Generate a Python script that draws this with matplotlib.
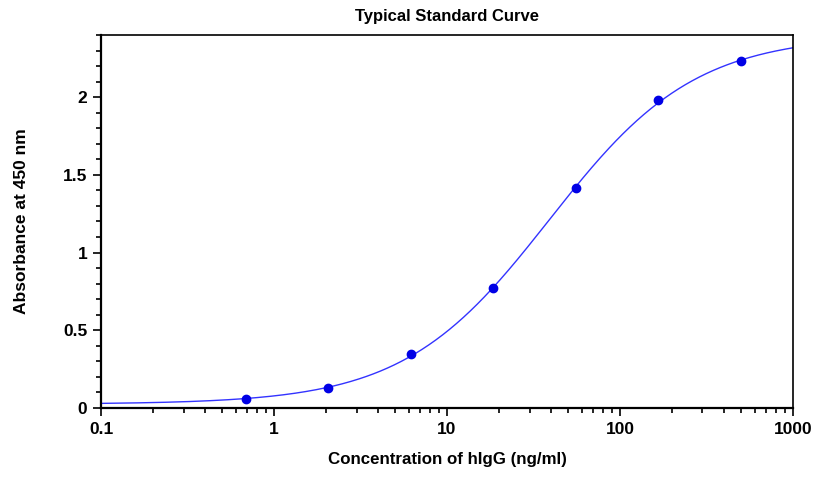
import numpy as np
import matplotlib
matplotlib.use("Agg")
import matplotlib.pyplot as plt
from matplotlib.ticker import FixedLocator, MultipleLocator, LogLocator, NullFormatter

# Standard points (3-fold dilutions from 500 ng/ml)
conc = [0.686, 2.058, 6.17, 18.52, 55.56, 166.7, 500.0]
absorb = [0.058, 0.129, 0.347, 0.772, 1.415, 1.98, 2.23]
xticks = [0.1, 1, 10, 100, 1000]
xtick_labels = ["0.1", "1", "10", "100", "1000"]
yticks = [0, 0.5, 1, 1.5, 2]
ytick_labels = ["0", "0.5", "1", "1.5", "2"]

plt.rcParams['font.family'] = ['Liberation Sans', 'DejaVu Sans']


def four_pl(x, p):
    a, d, c, b = p
    return d + (a - d) / (1 + (x / c) ** b)


def fit_4pl(x, y):
    # small Levenberg-Marquardt fit of the 4 parameter logistic
    x = np.asarray(x)
    y = np.asarray(y)
    p = np.array([y.min(), y.max() * 1.05, np.median(x), 1.0])
    lam = 1e-2
    for _ in range(500):
        r = y - four_pl(x, p)
        J = np.zeros((len(x), 4))
        for i in range(4):
            dp = np.zeros(4)
            dp[i] = 1e-6 * max(abs(p[i]), 1e-3)
            J[:, i] = (four_pl(x, p + dp) - four_pl(x, p)) / dp[i]
        A = J.T @ J
        g = J.T @ r
        step = np.linalg.solve(A + lam * np.diag(np.diag(A)), g)
        p_new = p + step
        if p_new[2] > 0 and np.sum((y - four_pl(x, p_new)) ** 2) < np.sum(r ** 2):
            p = p_new
            lam *= 0.5
        else:
            lam *= 4
    return p


params = fit_4pl(conc, absorb)
xs = np.logspace(-1, 3, 400)

fig = plt.figure(figsize=(8.2, 4.79), dpi=100)
ax = fig.add_axes([0.1232, 0.1482, 0.8438, 0.7788])

ax.plot(xs, four_pl(xs, params), color="#3333ff", lw=1.0)
ax.plot(conc, absorb, "o", color="#0000e6", ms=6)

ax.set_xscale("log")
ax.set_xlim(0.1, 1000)
ax.set_ylim(0, 2.4)
ax.xaxis.set_major_locator(FixedLocator(xticks))
ax.set_xticklabels(xtick_labels)
ax.xaxis.set_minor_locator(LogLocator(base=10, subs=np.arange(2, 10)))
ax.xaxis.set_minor_formatter(NullFormatter())
ax.set_yticks(yticks)
ax.set_yticklabels(ytick_labels)
ax.yaxis.set_minor_locator(MultipleLocator(0.1))

ax.tick_params(which="major", direction="out", length=6, width=1.2, labelsize=12.5, pad=4)
ax.tick_params(which="minor", direction="out", length=3.5, width=1.2)
for lab in ax.get_xticklabels() + ax.get_yticklabels():
    lab.set_fontweight("bold")
for s in ax.spines.values():
    s.set_linewidth(1.2)
ax.spines["bottom"].set_linewidth(1.6)
ax.spines["left"].set_linewidth(1.6)

ax.set_title("Typical Standard Curve", fontsize=12, fontweight="bold", pad=10)
ax.set_xlabel("Concentration of hIgG (ng/ml)", fontsize=12.2, fontweight="bold", labelpad=11)
ax.set_ylabel("Absorbance at 450 nm", fontsize=12.5, fontweight="bold", labelpad=24)

fig.savefig("out.png", dpi=100)
